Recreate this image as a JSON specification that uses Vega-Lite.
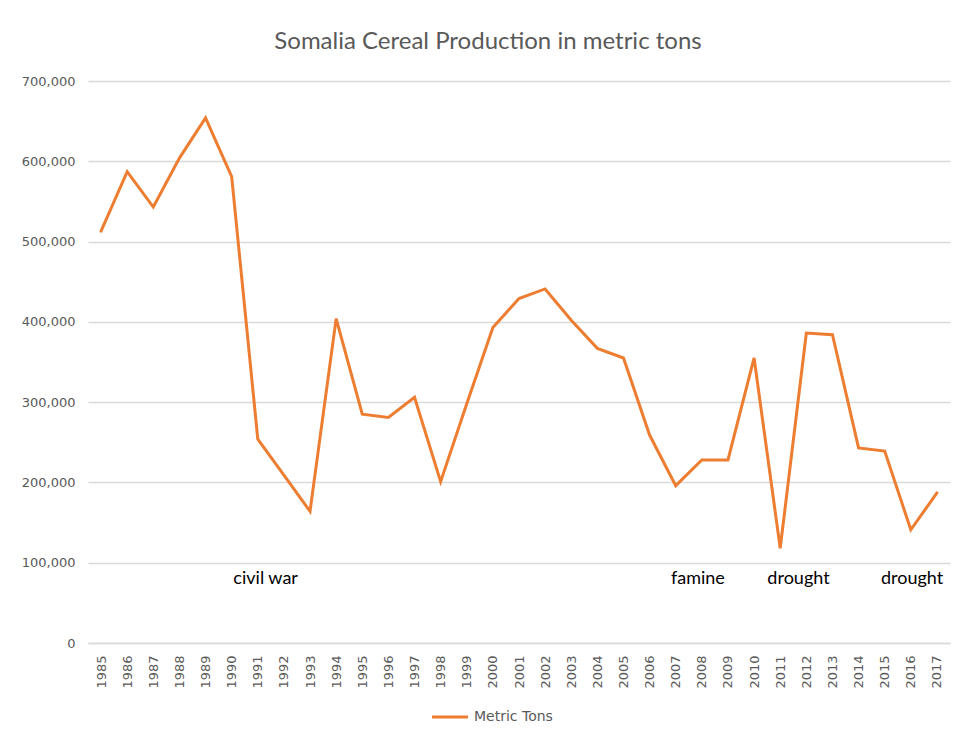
{
  "$schema": "https://vega.github.io/schema/vega-lite/v6.json",
  "autosize": "none",
  "width": 862,
  "height": 562,
  "padding": {"left": 88, "top": 81, "right": 7, "bottom": 93},
  "background": "white",
  "config": {
    "font": "Lato",
    "view": {"stroke": null},
    "axis": {"labelOverlap": false}
  },
  "title": {
    "text": "Somalia Cereal Production in metric tons",
    "fontSize": 24,
    "font": "Lato",
    "fontWeight": "normal",
    "color": "#595959",
    "anchor": "middle",
    "dx": -31,
    "offset": 21
  },
  "datasets": {
    "prod": [
      {"year": 1985, "tons": 513000, "series": "Metric Tons"},
      {"year": 1986, "tons": 587000, "series": "Metric Tons"},
      {"year": 1987, "tons": 543000, "series": "Metric Tons"},
      {"year": 1988, "tons": 604000, "series": "Metric Tons"},
      {"year": 1989, "tons": 654000, "series": "Metric Tons"},
      {"year": 1990, "tons": 581000, "series": "Metric Tons"},
      {"year": 1991, "tons": 254000, "series": "Metric Tons"},
      {"year": 1992, "tons": 209000, "series": "Metric Tons"},
      {"year": 1993, "tons": 164000, "series": "Metric Tons"},
      {"year": 1994, "tons": 404000, "series": "Metric Tons"},
      {"year": 1995, "tons": 285000, "series": "Metric Tons"},
      {"year": 1996, "tons": 281000, "series": "Metric Tons"},
      {"year": 1997, "tons": 306000, "series": "Metric Tons"},
      {"year": 1998, "tons": 201000, "series": "Metric Tons"},
      {"year": 1999, "tons": 298000, "series": "Metric Tons"},
      {"year": 2000, "tons": 393000, "series": "Metric Tons"},
      {"year": 2001, "tons": 429000, "series": "Metric Tons"},
      {"year": 2002, "tons": 441000, "series": "Metric Tons"},
      {"year": 2003, "tons": 402000, "series": "Metric Tons"},
      {"year": 2004, "tons": 367000, "series": "Metric Tons"},
      {"year": 2005, "tons": 355000, "series": "Metric Tons"},
      {"year": 2006, "tons": 259000, "series": "Metric Tons"},
      {"year": 2007, "tons": 196000, "series": "Metric Tons"},
      {"year": 2008, "tons": 228000, "series": "Metric Tons"},
      {"year": 2009, "tons": 228000, "series": "Metric Tons"},
      {"year": 2010, "tons": 355000, "series": "Metric Tons"},
      {"year": 2011, "tons": 118000, "series": "Metric Tons"},
      {"year": 2012, "tons": 386000, "series": "Metric Tons"},
      {"year": 2013, "tons": 384000, "series": "Metric Tons"},
      {"year": 2014, "tons": 243000, "series": "Metric Tons"},
      {"year": 2015, "tons": 239000, "series": "Metric Tons"},
      {"year": 2016, "tons": 141000, "series": "Metric Tons"},
      {"year": 2017, "tons": 187000, "series": "Metric Tons"}
    ],
    "notes": [
      {"year": 1991.3, "tons": 80000, "label": "civil war"},
      {"year": 2007.85, "tons": 80000, "label": "famine"},
      {"year": 2011.7, "tons": 80000, "label": "drought"},
      {"year": 2016.05, "tons": 80000, "label": "drought"}
    ]
  },
  "layer": [
    {
      "data": {"name": "prod"},
      "mark": {"type": "line", "strokeWidth": 3, "strokeJoin": "miter", "strokeCap": "round"},
      "encoding": {
        "x": {
          "field": "year",
          "type": "quantitative",
          "scale": {"domain": [1984.5, 2017.5], "nice": false, "zero": false},
          "axis": {
            "title": null,
            "values": [1985,1986,1987,1988,1989,1990,1991,1992,1993,1994,1995,1996,1997,1998,1999,2000,2001,2002,2003,2004,2005,2006,2007,2008,2009,2010,2011,2012,2013,2014,2015,2016,2017],
            "format": "d",
            "labelAngle": -90,
            "labelFont": "DejaVu Sans",
            "labelFontSize": 13,
            "labelColor": "#595959",
            "labelPadding": 12,
            "labelOverlap": false,
            "labelFlush": false,
            "labelBound": false,
            "ticks": false,
            "grid": false,
            "domain": true,
            "domainColor": "#d9d9d9",
            "domainWidth": 1.5
          }
        },
        "y": {
          "field": "tons",
          "type": "quantitative",
          "scale": {"domain": [0, 700000], "nice": false},
          "axis": {
            "title": null,
            "values": [0,100000,200000,300000,400000,500000,600000,700000],
            "format": ",d",
            "labelFont": "DejaVu Sans",
            "labelFontSize": 13,
            "labelColor": "#595959",
            "labelPadding": 13,
            "ticks": false,
            "domain": false,
            "grid": true,
            "gridColor": "#d9d9d9",
            "gridWidth": 1.5
          }
        },
        "color": {
          "field": "series",
          "type": "nominal",
          "scale": {"range": ["#ED7D31"]},
          "legend": {
            "title": null,
            "orient": "none",
            "legendX": 342,
            "legendY": 616,
            "direction": "horizontal",
            "symbolType": "stroke",
            "symbolSize": 1300,
            "symbolStrokeWidth": 3,
            "labelFont": "DejaVu Sans",
            "labelFontSize": 14,
            "labelColor": "#595959",
            "labelOffset": 4
          }
        }
      }
    },
    {
      "data": {"name": "notes"},
      "mark": {"type": "text", "fontSize": 18, "font": "Lato", "color": "#000000", "align": "center", "baseline": "middle"},
      "encoding": {
        "x": {"field": "year", "type": "quantitative", "axis": {"labelOverlap": false, "values": [1985,1986,1987,1988,1989,1990,1991,1992,1993,1994,1995,1996,1997,1998,1999,2000,2001,2002,2003,2004,2005,2006,2007,2008,2009,2010,2011,2012,2013,2014,2015,2016,2017]}},
        "y": {"field": "tons", "type": "quantitative"},
        "text": {"field": "label"}
      }
    }
  ]
}
